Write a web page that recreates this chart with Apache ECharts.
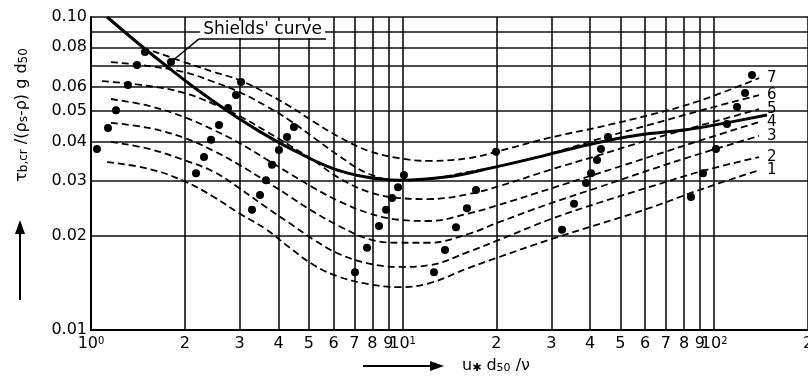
<!DOCTYPE html>
<html>
<head>
<meta charset="utf-8">
<script src="https://cdn.jsdelivr.net/npm/echarts@6/dist/echarts.min.js"></script>
<style>
html, body { margin: 0; padding: 0; background: #fff; }
#chart { width: 808px; height: 378px; }
</style>
</head>
<body>
<div id="chart"></div>
<script>
// grid positions on the log axes
const xTicks = [1, 2, 3, 4, 5, 6, 7, 8, 9, 10, 20, 30, 40, 50, 60, 70, 80, 90, 100, 200]
const yTicks = [0.01, 0.02, 0.03, 0.04, 0.05, 0.06, 0.07, 0.08, 0.09, 0.1]
const yHidden = [0.07, 0.09]

// Shields' curve
const shieldsX = [1.126, 1.426, 1.779, 2.222, 2.773, 3.461, 4.32, 5.93, 7.63, 9.74, 13.78, 19.94, 28.86, 41.75, 57.38, 81.2, 109.1, 147.7]
const shieldsY = [0.1, 0.082, 0.0687, 0.058, 0.0497, 0.0432, 0.0382, 0.0329, 0.0308, 0.0301, 0.0308, 0.0332, 0.0362, 0.0396, 0.042, 0.0436, 0.0459, 0.0486]

// dashed curves 1..7, they share the x stations after the first point
const midX = [1.535, 1.99, 2.48, 2.99, 3.64, 4.32, 5.2, 6.25, 7.8, 9.74, 12.15, 16.33, 20.39, 29.5, 42.7, 61.8, 89.4, 139.3]
const curve1X = [1.126].concat(midX)
const curve1Y = [0.0344, 0.0327, 0.0299, 0.0266, 0.0236, 0.021, 0.0184, 0.0161, 0.0148, 0.014, 0.0137, 0.0141, 0.0158, 0.0171, 0.0194, 0.0218, 0.0245, 0.028, 0.0324]
const curve2X = [1.159].concat(midX)
const curve2Y = [0.0399, 0.0379, 0.0349, 0.032, 0.0284, 0.0247, 0.022, 0.0194, 0.0175, 0.0163, 0.0159, 0.0161, 0.0178, 0.0194, 0.0225, 0.0255, 0.0286, 0.032, 0.0357]
const curve3X = [1.159].concat(midX)
const curve3Y = [0.0459, 0.0442, 0.0411, 0.0373, 0.0337, 0.0299, 0.0268, 0.0238, 0.0215, 0.0195, 0.019, 0.019, 0.0203, 0.0221, 0.0253, 0.0286, 0.0324, 0.0365, 0.0417]
const curve4X = [1.159].concat(midX)
const curve4Y = [0.0547, 0.052, 0.0479, 0.0435, 0.0396, 0.0352, 0.0317, 0.0284, 0.0258, 0.0236, 0.0225, 0.0223, 0.0236, 0.0251, 0.0282, 0.0317, 0.0357, 0.0402, 0.0462]
const curve5X = [1.085].concat(midX)
const curve5Y = [0.0624, 0.0602, 0.0572, 0.0527, 0.0483, 0.0432, 0.039, 0.0347, 0.0306, 0.0276, 0.0264, 0.0262, 0.0272, 0.0288, 0.0324, 0.0362, 0.0405, 0.0449, 0.0508]
const curve6X = [1.159].concat(midX)
const curve6Y = [0.0718, 0.0697, 0.0667, 0.062, 0.0576, 0.052, 0.0469, 0.0411, 0.036, 0.0315, 0.0301, 0.0304, 0.032, 0.0334, 0.0365, 0.0408, 0.0452, 0.0501, 0.0563]
const curve7X = [1.458].concat(midX)
const curve7Y = [0.0796, 0.0785, 0.0718, 0.0667, 0.0629, 0.0572, 0.052, 0.0462, 0.0414, 0.0373, 0.0354, 0.0347, 0.0354, 0.0373, 0.0411, 0.0445, 0.0486, 0.0539, 0.0638]

// measured points
const pointsX = [1.045, 1.134, 1.203, 1.314, 1.405, 1.49, 1.806, 3.03, 2.92, 2.753, 2.575, 2.427, 2.305, 2.173,
  4.48, 4.256, 4.01, 3.81, 3.644, 3.486, 3.286, 7.035, 7.69, 8.4, 8.85, 9.25, 9.67, 10.1,
  12.61, 13.68, 14.84, 16.09, 17.2, 19.94, 32.48, 35.49, 38.78, 40.24, 42.06, 43.31, 45.62,
  84.25, 92.1, 101.3, 109.9, 118.4, 125.6, 132.2]
const pointsY = [0.0379, 0.0442, 0.0504, 0.0606, 0.0702, 0.0773, 0.0718, 0.062, 0.0563, 0.0512, 0.0452, 0.0405, 0.0357, 0.0317,
  0.0445, 0.0414, 0.0376, 0.0337, 0.0301, 0.027, 0.0242, 0.0153, 0.0183, 0.0215, 0.0242, 0.0264, 0.0286, 0.0313,
  0.0153, 0.018, 0.0213, 0.0245, 0.028, 0.0371, 0.0209, 0.0253, 0.0295, 0.0317, 0.0349, 0.0379, 0.0414,
  0.0266, 0.0317, 0.0379, 0.0455, 0.0516, 0.0572, 0.0653]

// "Shields' curve" note: leader from the point, then the underline
const noteStart = [1.806, 0.0718]
const noteCorner = [2.222, 0.0851]
const noteEnd = [5.68, 0.0851]

const font = 'DejaVu Sans'
const ink = '#000'

const zip = (xs, ys) => xs.map((x, i) => [x, ys[i]])
const isPow10 = (v) => {
  const l = Math.log10(v)
  return Math.abs(l - Math.round(l)) < 1e-6
}

const dashedCurve = (name, xs, ys) => ({
  name,
  type: 'line',
  data: zip(xs, ys),
  symbol: 'none',
  smooth: 0.4,
  lineStyle: { color: ink, width: 1.8, type: [7, 4] },
  endLabel: { show: true, formatter: name, color: ink, fontFamily: font, fontSize: 15, distance: 8 },
  z: 3
})

const chart = echarts.init(document.getElementById('chart'))

const option = {
  animation: false,
  backgroundColor: '#fff',
  grid: { left: 91, right: 0, top: 17, bottom: 48, containLabel: false, outerBoundsMode: 'none' },
  xAxis: {
    type: 'log',
    logBase: 10,
    min: 1,
    max: 200,
    axisLine: { show: true, onZero: false, lineStyle: { color: ink, width: 2 } },
    axisTick: { show: false, customValues: xTicks },
    splitLine: { show: true, customValues: xTicks, lineStyle: { color: '#111', width: 1.6 } },
    axisLabel: {
      customValues: xTicks,
      margin: 6,
      color: ink,
      fontFamily: font,
      fontSize: 16,
      formatter: (v) => {
        if (isPow10(v)) return '{b|10}{sup|' + Math.round(Math.log10(v)) + '}'
        return '{b|' + Math.round(v / Math.pow(10, Math.floor(Math.log10(v)))) + '}'
      },
      rich: {
        b: { fontSize: 16, fontFamily: font, color: ink },
        sup: { fontSize: 10, fontFamily: font, color: ink, verticalAlign: 'top', padding: [0, 0, 6, 0] }
      }
    }
  },
  yAxis: {
    type: 'log',
    logBase: 10,
    min: 0.01,
    max: 0.1,
    axisLine: { show: true, onZero: false, lineStyle: { color: ink, width: 2 } },
    axisTick: { show: false, customValues: yTicks },
    splitLine: { show: true, customValues: yTicks, lineStyle: { color: '#111', width: 1.6 } },
    axisLabel: {
      customValues: yTicks,
      margin: 4,
      color: ink,
      fontFamily: font,
      fontSize: 16,
      formatter: (v) => (yHidden.some((h) => Math.abs(h - v) < 1e-6) ? '' : v.toFixed(2))
    }
  },
  series: [
    dashedCurve('1', curve1X, curve1Y),
    dashedCurve('2', curve2X, curve2Y),
    dashedCurve('3', curve3X, curve3Y),
    dashedCurve('4', curve4X, curve4Y),
    dashedCurve('5', curve5X, curve5Y),
    dashedCurve('6', curve6X, curve6Y),
    dashedCurve('7', curve7X, curve7Y),
    {
      name: 'Shields',
      type: 'line',
      data: zip(shieldsX, shieldsY),
      symbol: 'none',
      smooth: 0.4,
      lineStyle: { color: ink, width: 3 },
      z: 4,
      markLine: {
        silent: true,
        symbol: 'none',
        lineStyle: { color: ink, width: 1.5, type: 'solid' },
        data: [
          [{ coord: noteStart, label: { show: false } }, { coord: noteCorner }],
          [
            {
              coord: noteCorner,
              label: {
                show: true,
                position: 'insideMiddleTop',
                formatter: "Shields' curve",
                color: ink,
                fontFamily: font,
                fontSize: 17,
                backgroundColor: '#fff',
                padding: [0, 3, 0, 3],
                distance: 1
              }
            },
            { coord: noteEnd }
          ]
        ]
      }
    },
    {
      name: 'points',
      type: 'scatter',
      data: zip(pointsX, pointsY),
      symbol: 'circle',
      symbolSize: 8,
      itemStyle: { color: ink, opacity: 1 },
      z: 5
    }
  ],
  graphic: [
    {
      type: 'text',
      x: 22,
      y: 115,
      rotation: Math.PI / 2,
      style: {
        text: '{t|τ}{s|b,cr}{t| /(ρ}{s|s}{t|-ρ) g d}{s|50}',
        align: 'center',
        verticalAlign: 'middle',
        rich: {
          t: { fontSize: 16, fontFamily: font, fill: ink },
          s: { fontSize: 12, fontFamily: font, fill: ink, verticalAlign: 'bottom' }
        }
      }
    },
    { type: 'line', shape: { x1: 20, y1: 300, x2: 20, y2: 232 }, style: { stroke: ink, lineWidth: 2 } },
    { type: 'polygon', shape: { points: [[20, 220], [15, 234], [25, 234]] }, style: { fill: ink } },
    { type: 'line', shape: { x1: 363, y1: 366, x2: 432, y2: 366 }, style: { stroke: ink, lineWidth: 2 } },
    { type: 'polygon', shape: { points: [[444, 366], [430, 361], [430, 371]] }, style: { fill: ink } },
    {
      type: 'text',
      x: 462,
      y: 366,
      style: {
        text: '{t|u}{s|✱}{t| d}{s|50}{t| /ν}',
        align: 'left',
        verticalAlign: 'middle',
        rich: {
          t: { fontSize: 16, fontFamily: font, fill: ink },
          s: { fontSize: 11, fontFamily: font, fill: ink, verticalAlign: 'bottom' }
        }
      }
    }
  ]
}

chart.setOption(option)
</script>
</body>
</html>
